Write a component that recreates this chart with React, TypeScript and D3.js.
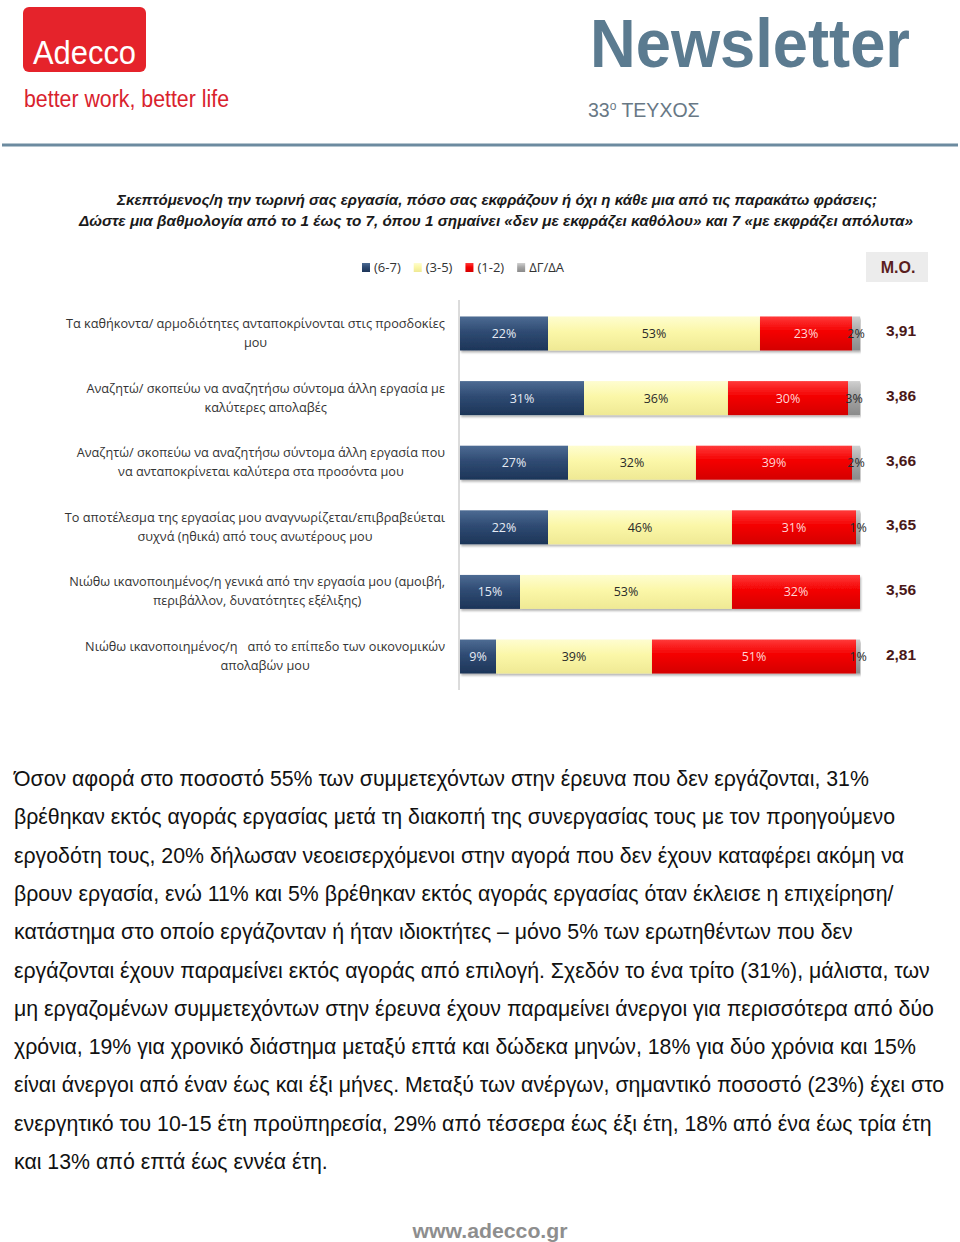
import React, { useEffect, useRef } from 'react';
import * as d3 from 'd3';

// chart data
const categories = [
  'Τα καθήκοντα/ αρμοδιότητες ανταποκρίνονται στις προσδοκίες\nμου',
  'Αναζητώ/ σκοπεύω να αναζητήσω σύντομα άλλη εργασία με\nκαλύτερες απολαβές',
  'Αναζητώ/ σκοπεύω να αναζητήσω σύντομα άλλη εργασία που\nνα ανταποκρίνεται καλύτερα στα προσόντα μου',
  'Το αποτέλεσμα της εργασίας μου αναγνωρίζεται/επιβραβεύεται\nσυχνά (ηθικά) από τους ανωτέρους μου',
  'Νιώθω ικανοποιημένος/η γενικά από την εργασία μου (αμοιβή,\nπεριβάλλον, δυνατότητες εξέλιξης)',
  'Νιώθω ικανοποιημένος/η   από το επίπεδο των οικονομικών\nαπολαβών μου',
];
const high = [22, 31, 27, 22, 15, 9];
const mid = [53, 36, 32, 46, 53, 39];
const low = [23, 30, 39, 31, 32, 51];
const dk = [2, 3, 2, 1, 0, 1];
const means = [3.91, 3.86, 3.66, 3.65, 3.56, 2.81];
const seriesKeys = ['high', 'mid', 'low', 'dk'];
const seriesNames = ['(6-7)', '(3-5)', '(1-2)', 'ΔΓ/ΔΑ'];

const bodyLines = [
  'Όσον αφορά στο ποσοστό 55% των συμμετεχόντων στην έρευνα που δεν εργάζονται, 31%',
  'βρέθηκαν εκτός αγοράς εργασίας μετά τη διακοπή της συνεργασίας τους με τον προηγούμενο',
  'εργοδότη τους, 20% δήλωσαν νεοεισερχόμενοι στην αγορά που δεν έχουν καταφέρει ακόμη να',
  'βρουν εργασία, ενώ 11% και 5% βρέθηκαν εκτός αγοράς εργασίας όταν έκλεισε η επιχείρηση/',
  'κατάστημα στο οποίο εργάζονταν ή ήταν ιδιοκτήτες – μόνο 5% των ερωτηθέντων που δεν',
  'εργάζονται έχουν παραμείνει εκτός αγοράς από επιλογή. Σχεδόν το ένα τρίτο (31%), μάλιστα, των',
  'μη εργαζομένων συμμετεχόντων στην έρευνα έχουν παραμείνει άνεργοι για περισσότερα από δύο',
  'χρόνια, 19% για χρονικό διάστημα μεταξύ επτά και δώδεκα μηνών, 18% για δύο χρόνια και 15%',
  'είναι άνεργοι από έναν έως και έξι μήνες. Μεταξύ των ανέργων, σημαντικό ποσοστό (23%) έχει στο',
  'ενεργητικό του 10-15 έτη προϋπηρεσία, 29% από τέσσερα έως έξι έτη, 18% από ένα έως τρία έτη',
  'και 13% από επτά έως εννέα έτη.',
];

const App = () => {
  const svgRef = useRef<SVGSVGElement>(null);

  useEffect(() => {
    const svg = d3.select(svgRef.current);
    svg.selectAll('*').remove();
    svg.attr('width', 960).attr('height', 1242);

    const sans = '"Liberation Sans", Arial, sans-serif';
    const narrow = '"Open Sans", "Liberation Sans", sans-serif';

    // gradients for the bar fills
    const defs = svg.append('defs');
    const stops: Record<string, string[]> = {
      high: ['#4d6b93', '#2f4b73', '#1d3558'],
      mid: ['#fefdd0', '#fbf7a8', '#efe994'],
      low: ['#ff3a3a', '#f40000', '#d40000'],
      dk: ['#d0d0d0', '#a6a6a6', '#8a8a8a'],
    };
    seriesKeys.forEach(k => {
      const g = defs.append('linearGradient').attr('id', `g-${k}`)
        .attr('x1', 0).attr('y1', 0).attr('x2', 0).attr('y2', 1);
      g.append('stop').attr('offset', '0%').attr('stop-color', stops[k][0]);
      g.append('stop').attr('offset', '45%').attr('stop-color', stops[k][1]);
      g.append('stop').attr('offset', '100%').attr('stop-color', stops[k][2]);
    });
    const shadow = defs.append('filter').attr('id', 'shadow')
      .attr('x', '-5%').attr('y', '-20%').attr('width', '110%').attr('height', '160%');
    shadow.append('feDropShadow').attr('dx', 1).attr('dy', 2).attr('stdDeviation', 1.2)
      .attr('flood-color', '#000').attr('flood-opacity', 0.3);

    // header
    svg.append('rect').attr('x', 23).attr('y', 7).attr('width', 123).attr('height', 65)
      .attr('rx', 6).attr('fill', '#e5232b');
    svg.append('text').attr('x', 33).attr('y', 64).attr('font-family', sans)
      .attr('font-size', 33).attr('fill', '#fff').attr('textLength', 103)
      .attr('lengthAdjust', 'spacingAndGlyphs').text('Adecco');
    svg.append('text').attr('x', 24).attr('y', 107).attr('font-family', sans)
      .attr('font-size', 23).attr('fill', '#d9222d').attr('textLength', 205)
      .attr('lengthAdjust', 'spacingAndGlyphs').text('better work, better life');
    svg.append('text').attr('x', 590).attr('y', 67).attr('font-family', sans)
      .attr('font-weight', 'bold').attr('font-size', 68).attr('fill', '#5b7b90')
      .attr('textLength', 320).attr('lengthAdjust', 'spacingAndGlyphs').text('Newsletter');
    const issue = svg.append('text').attr('x', 588).attr('y', 117).attr('font-family', sans)
      .attr('font-size', 19.5).attr('fill', '#687885');
    issue.append('tspan').text('33');
    issue.append('tspan').attr('dy', -7).attr('font-size', 12).text('ο');
    issue.append('tspan').attr('dy', 7).text(' ΤΕΥΧΟΣ');
    svg.append('line').attr('x1', 2).attr('x2', 958).attr('y1', 145).attr('y2', 145)
      .attr('stroke', '#6c8ba0').attr('stroke-width', 3);

    // chart title
    svg.append('text').attr('x', 497).attr('y', 205).attr('text-anchor', 'middle')
      .attr('font-family', sans).attr('font-size', 14).attr('font-weight', 'bold')
      .attr('font-style', 'italic').attr('fill', '#1a1a1a').attr('textLength', 760)
      .attr('lengthAdjust', 'spacingAndGlyphs')
      .text('Σκεπτόμενος/η την τωρινή σας εργασία, πόσο σας εκφράζουν ή όχι η κάθε μια από τις παρακάτω φράσεις;');
    svg.append('text').attr('x', 496).attr('y', 226).attr('text-anchor', 'middle')
      .attr('font-family', sans).attr('font-size', 14).attr('font-weight', 'bold')
      .attr('font-style', 'italic').attr('fill', '#1a1a1a').attr('textLength', 834)
      .attr('lengthAdjust', 'spacingAndGlyphs')
      .text('Δώστε μια βαθμολογία από το 1 έως το 7, όπου 1 σημαίνει «δεν με εκφράζει καθόλου» και 7 «με εκφράζει απόλυτα»');

    // legend
    let cursor = 362;
    seriesKeys.forEach((k, i) => {
      const item = svg.append('g');
      item.append('rect').attr('x', cursor).attr('y', 263).attr('width', 8).attr('height', 9)
        .attr('fill', `url(#g-${k})`);
      const t = item.append('text').attr('x', cursor + 12).attr('y', 272)
        .attr('font-family', narrow).attr('font-size', 13).attr('fill', '#333')
        .text(seriesNames[i]);
      const w = (t.node() as SVGTextElement).getComputedTextLength();
      cursor += 12 + w + 13;
    });

    // mean box header
    svg.append('rect').attr('x', 866).attr('y', 252).attr('width', 62).attr('height', 30)
      .attr('fill', '#ececec');
    svg.append('text').attr('x', 898).attr('y', 273).attr('text-anchor', 'middle')
      .attr('font-family', sans).attr('font-weight', 'bold').attr('font-size', 16)
      .attr('fill', '#5a1e1e').text('M.O.');

    // scales
    const rows = categories.map((c, i) => ({
      cat: c, high: high[i], mid: mid[i], low: low[i], dk: dk[i], mean: means[i],
    }));
    const x = d3.scaleLinear().domain([0, 100]).range([460, 860]);
    const y = d3.scaleBand().domain(categories).range([300, 690])
      .paddingInner(0.474).paddingOuter(0.255);
    const stacked = d3.stack<any>().keys(seriesKeys)(rows);

    // axis line
    svg.append('line').attr('x1', 459).attr('x2', 459).attr('y1', 300).attr('y2', 690)
      .attr('stroke', '#b8b8b8').attr('stroke-width', 1);

    const labelColor: Record<string, string> = {
      high: '#e6ecf4', mid: '#2a2a2a', low: '#ffd6d6', dk: '#2a2a2a',
    };

    stacked.forEach(layer => {
      const g = svg.append('g');
      g.selectAll('rect').data(layer.filter(d => d[1] - d[0] > 0)).join('rect')
        .attr('x', d => x(d[0]))
        .attr('y', d => y(d.data.cat)!)
        .attr('width', d => x(d[1]) - x(d[0]))
        .attr('height', y.bandwidth())
        .attr('fill', `url(#g-${layer.key})`)
        .attr('filter', 'url(#shadow)');
    });
    stacked.forEach(layer => {
      svg.append('g').selectAll('text').data(layer.filter(d => d[1] - d[0] > 0)).join('text')
        .attr('x', d => (x(d[0]) + x(d[1])) / 2)
        .attr('y', d => y(d.data.cat)! + y.bandwidth() / 2 + 4.5)
        .attr('text-anchor', 'middle')
        .attr('font-family', narrow).attr('font-size', 12.5)
        .attr('fill', labelColor[layer.key])
        .text(d => `${d[1] - d[0]}%`);
    });

    // means
    const fmt = d3.format('.2f');
    svg.append('g').selectAll('text').data(rows).join('text')
      .attr('x', 901)
      .attr('y', d => y(d.cat)! + y.bandwidth() / 2 + 3)
      .attr('text-anchor', 'middle')
      .attr('font-family', sans).attr('font-weight', 'bold').attr('font-size', 15.5)
      .attr('fill', '#4a1818')
      .text(d => fmt(d.mean).replace('.', ','));

    // category labels, block centred and right edge at 445
    rows.forEach(r => {
      const lines = r.cat.split('\n');
      const cy = y(r.cat)! + y.bandwidth() / 2;
      const g = svg.append('g');
      const texts = lines.map((ln, j) => g.append('text')
        .attr('y', cy - 10 + j * 19 + 4.5)
        .attr('text-anchor', 'middle')
        .attr('font-family', narrow).attr('font-size', 12.7)
        .attr('fill', '#333')
        .style('white-space', 'pre')
        .text(ln));
      const maxW = d3.max(texts, t => (t.node() as SVGTextElement).getComputedTextLength()) || 0;
      texts.forEach(t => t.attr('x', 445 - maxW / 2));
    });

    // body text
    svg.append('g').selectAll('text').data(bodyLines).join('text')
      .attr('x', 14)
      .attr('y', (d, i) => 786 + i * 38.3)
      .attr('font-family', sans).attr('font-size', 21.3)
      .attr('fill', '#111')
      .text(d => d);

    // footer
    svg.append('text').attr('x', 490).attr('y', 1238).attr('text-anchor', 'middle')
      .attr('font-family', sans).attr('font-weight', 'bold').attr('font-size', 20)
      .attr('fill', '#8e8e8e').attr('textLength', 155).attr('lengthAdjust', 'spacingAndGlyphs')
      .text('www.adecco.gr');
  }, []);

  return <svg ref={svgRef} style={{ position: 'absolute', left: 0, top: 0 }}></svg>;
};

export default App;
